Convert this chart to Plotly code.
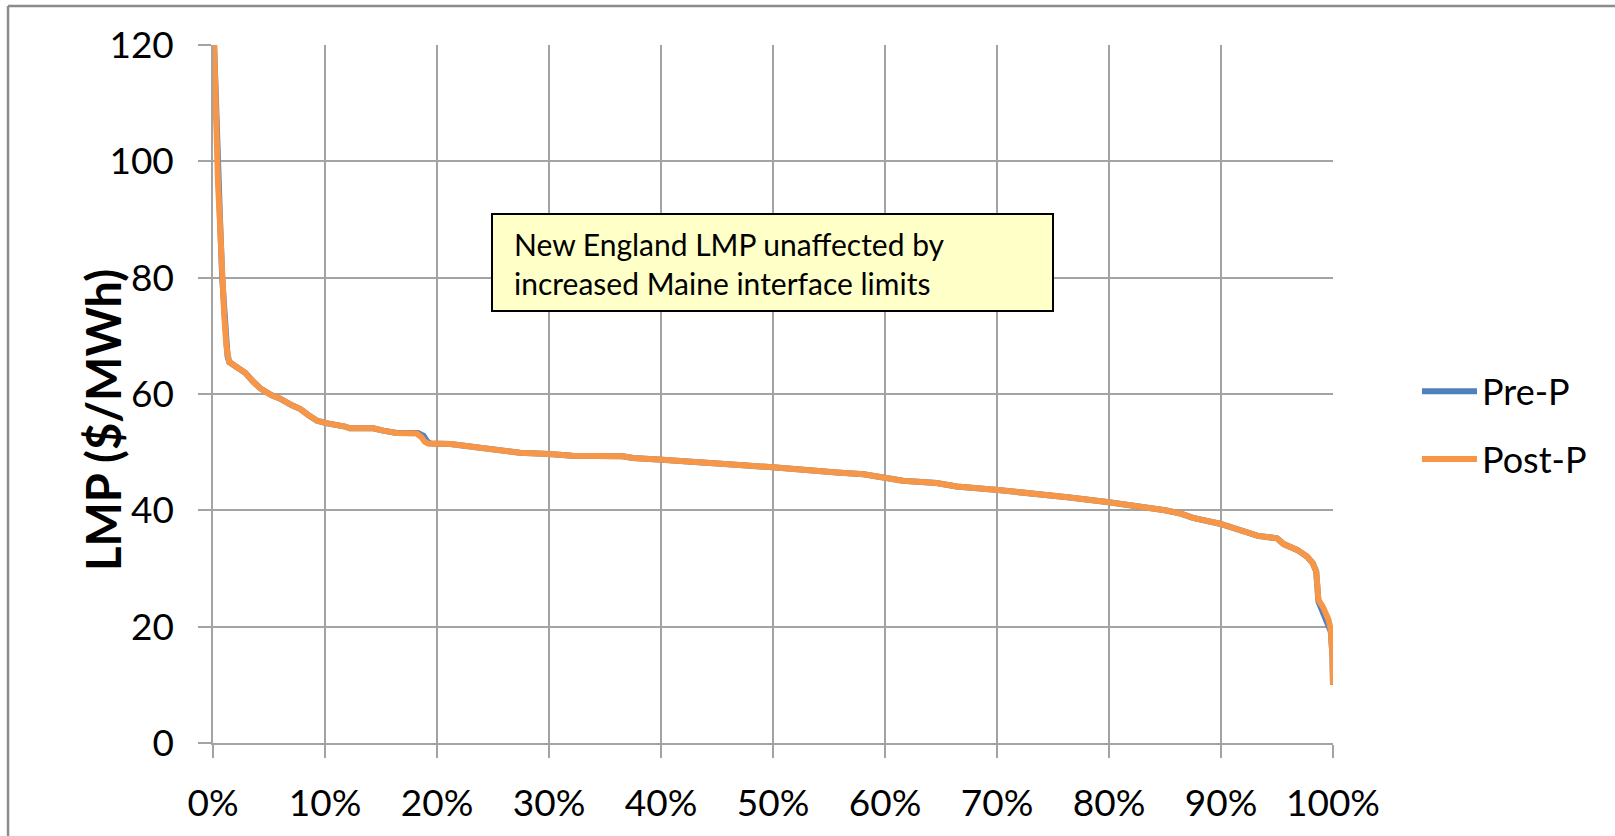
import plotly.graph_objects as go

# Share of hours (%) and sorted LMP ($/MWh): price duration curves
post_pct = [0.1, 0.18, 0.25, 0.3, 0.45, 0.6, 0.8, 1.0, 1.2, 1.3, 1.45, 2.2, 2.9, 3.6, 4.2,
            5.2, 6.0, 7.0, 7.8, 8.5, 9.3, 10.1, 11.0, 11.8, 12.2, 14.3, 15.2, 16.4, 18.2,
            18.6, 18.9, 19.2, 21.2, 23.8, 26.2, 27.4, 30.0, 32.1, 36.6, 37.5, 40.1, 44.1,
            47.0, 50.0, 52.7, 55.7, 58.1, 60.0, 61.6, 64.6, 66.4, 70.1, 73.5, 76.5, 80.0,
            82.5, 85.0, 86.3, 87.5, 89.9, 92.3, 93.3, 95.0, 95.6, 96.8, 97.7, 98.2, 98.5,
            98.7, 99.1, 99.6, 99.8, 99.95, 100.0]
post_lmp = [120, 114, 106.6, 101, 96, 90.4, 80, 73.5, 68.1, 66.5, 65.5, 64.5, 63.6, 62.1, 61.0,
            59.8, 59.2, 58.1, 57.4, 56.4, 55.4, 55.0, 54.8, 54.4, 54.1, 54.1, 53.7, 53.3, 53.2,
            52.6, 51.8, 51.5, 51.4, 50.8, 50.4, 49.9, 49.7, 49.4, 49.3, 49.0, 48.7, 48.3,
            47.8, 47.4, 46.9, 46.5, 46.2, 45.7, 45.1, 44.7, 44.1, 43.5, 42.9, 42.2, 41.4,
            40.8, 40.0, 39.5, 38.7, 37.7, 36.3, 35.6, 35.2, 34.2, 33.2, 32.0, 30.9, 29.5,
            24.6, 23.4, 21.2, 19.4, 15.0, 10.0]

pre_pct = [0.1, 0.2, 0.28, 0.33, 0.48, 0.62, 0.82, 1.02, 1.2, 1.3, 1.45, 2.2, 2.9, 3.6, 4.2,
           5.2, 6.0, 7.0, 7.8, 8.5, 9.3, 10.1, 11.0, 11.8, 12.2, 14.3, 15.2, 16.4, 18.3,
           18.8, 19.1, 19.4, 21.2, 23.8, 26.2, 27.4, 30.0, 32.1, 36.6, 37.5, 40.1, 44.1,
           47.0, 50.0, 52.7, 55.7, 58.1, 60.0, 61.6, 64.6, 66.4, 70.1, 73.5, 76.5, 80.0,
           82.5, 85.0, 86.3, 87.5, 89.9, 92.3, 93.3, 95.0, 95.6, 96.8, 97.7, 98.2, 98.5,
           98.7, 99.0, 99.5, 99.8, 99.95, 100.0]
pre_lmp = [120, 114, 106.6, 101, 96, 90.4, 80, 73.5, 68.1, 66.5, 65.5, 64.5, 63.6, 62.1, 61.0,
           59.8, 59.2, 58.1, 57.4, 56.4, 55.4, 55.0, 54.8, 54.4, 54.1, 54.1, 53.7, 53.3, 53.3,
           52.8, 51.9, 51.5, 51.4, 50.8, 50.4, 49.9, 49.7, 49.4, 49.3, 49.0, 48.7, 48.3,
           47.8, 47.4, 46.9, 46.5, 46.2, 45.7, 45.1, 44.7, 44.1, 43.5, 42.9, 42.2, 41.4,
           40.8, 40.0, 39.5, 38.7, 37.7, 36.3, 35.6, 35.2, 34.2, 33.2, 32.0, 30.9, 29.5,
           24.3, 23.0, 20.8, 19.2, 15.0, 10.0]

x_ticks = [0, 10, 20, 30, 40, 50, 60, 70, 80, 90, 100]
y_ticks = [0, 20, 40, 60, 80, 100, 120]

FONT = "Lato"
GRID = "#a3a3a3"

fig = go.Figure()
fig.add_trace(go.Scatter(x=pre_pct, y=pre_lmp, mode="lines", name="Pre-P",
                         legendgroup="pre",
                         line=dict(color="#4F81BD", width=6)))
fig.add_trace(go.Scatter(x=post_pct, y=post_lmp, mode="lines", name="Post-P",
                         legendgroup="post",
                         line=dict(color="#F79646", width=6)))

# Chart frame (left and top edges)
frame = dict(color="#8c8c8c", width=2.5)
fig.add_shape(type="line", xref="paper", yref="paper",
              x0=-0.183, x1=-0.183, y0=-0.2, y1=1.0559, line=frame)
fig.add_shape(type="line", xref="paper", yref="paper",
              x0=-0.183, x1=1.3, y0=1.0559, y1=1.0559, line=frame)

# Note box
fig.add_shape(type="rect", xref="paper", yref="paper",
              x0=(492 - 213) / 1120, x1=(1053 - 213) / 1120,
              y0=(743 - 311) / 698, y1=(743 - 214) / 698,
              fillcolor="#FFFFC8", line=dict(color="#000000", width=2))
fig.add_annotation(xref="paper", yref="paper",
                   x=(512 - 213) / 1120, y=(743 - 263) / 698,
                   xanchor="left", yanchor="middle", align="left", showarrow=False,
                   text="New England LMP unaffected by<br>increased Maine interface limits",
                   font=dict(family=FONT, size=30, color="#000000"))

# Y-axis title
fig.add_annotation(xref="paper", yref="paper",
                   x=(103 - 213) / 1120, y=(743 - 420) / 698,
                   xanchor="center", yanchor="middle", showarrow=False, textangle=-90,
                   text="<b>LMP ($/MWh)</b>",
                   font=dict(family=FONT, size=47, color="#000000"))

fig.update_layout(
    width=1615, height=836, autosize=False,
    margin=dict(l=213, r=282, t=45, b=93),
    paper_bgcolor="white", plot_bgcolor="white",
    font=dict(family=FONT, color="#000000"),
    showlegend=True,
    legend=dict(x=1.075, y=0.455, xanchor="left", yanchor="middle",
                font=dict(family=FONT, size=36, color="#000000"),
                tracegroupgap=18, itemwidth=55, bgcolor="rgba(0,0,0,0)"),
)
fig.update_xaxes(range=[0, 100], tickvals=x_ticks, ticktext=[f"{v}%" for v in x_ticks],
                 showgrid=True, gridcolor=GRID, gridwidth=1.5,
                 showline=True, linecolor=GRID, linewidth=1.5,
                 ticks="outside", ticklen=13, tickcolor=GRID, tickwidth=1.5,
                 ticklabelstandoff=14, zeroline=False,
                 tickfont=dict(family=FONT, size=37, color="#000000"))
fig.update_yaxes(range=[0, 120], tickvals=y_ticks,
                 showgrid=True, gridcolor=GRID, gridwidth=1.5,
                 showline=True, linecolor=GRID, linewidth=1.5,
                 ticks="outside", ticklen=13, tickcolor=GRID, tickwidth=1.5,
                 ticklabelstandoff=17, zeroline=False,
                 tickfont=dict(family=FONT, size=37, color="#000000"))

fig.write_html("out.html")
